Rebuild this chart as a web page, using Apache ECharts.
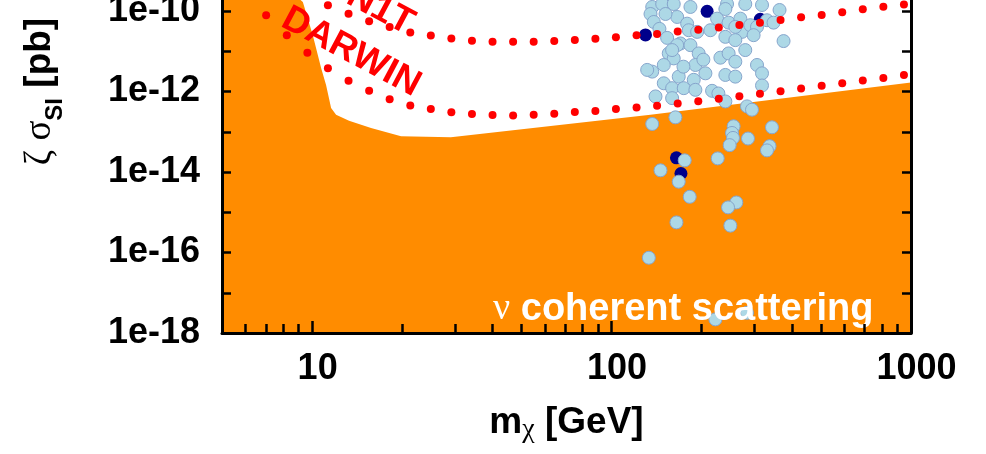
<!DOCTYPE html>
<html>
<head>
<meta charset="utf-8">
<script src="https://cdn.jsdelivr.net/npm/echarts@6/dist/echarts.min.js"></script>
<style>
  html, body { margin: 0; padding: 0; background: #fff; overflow: hidden; width: 986px; height: 454px; }
  /* the plot runs up to 1e-6 pb; only its lower part sits inside the page */
  #chart { position: absolute; left: 0; top: -150px; width: 986px; height: 604px; }
</style>
</head>
<body>
<div id="chart"></div>
<script>
// Mass grid (GeV) on which the projected sensitivity curves are sampled
const massGrid = [7.02, 8.23, 9.64, 11.29, 13.23, 15.50, 18.15, 21.27, 24.91, 29.17, 34.18,
  40.04, 46.90, 54.94, 64.36, 75.39, 88.31, 103.4, 121.2, 141.9, 166.3, 194.8, 228.1,
  267.2, 313.0, 366.7, 429.5, 503.1, 589.3, 690.2, 808.5, 947.1];

// XENON1T projected reach (pb)
const xenon1tLimit = [null, null, null, 1.38e-10, 8.57e-11, 5.57e-11, 4.03e-11, 2.91e-11,
  2.45e-11, 2.07e-11, 1.82e-11, 1.72e-11, 1.72e-11, 1.72e-11, 1.79e-11, 1.89e-11, 2.04e-11,
  2.22e-11, 2.48e-11, 2.70e-11, 3.08e-11, 3.40e-11, 3.87e-11, 4.51e-11, 5.14e-11, 6.00e-11,
  6.98e-11, 7.96e-11, 9.29e-11, 1.10e-10, 1.28e-10, 1.46e-10];

// DARWIN projected reach (pb)
const darwinLimit = [7.84e-11, 2.51e-11, 9.18e-12, 3.76e-12, 1.84e-12, 1.04e-12, 6.46e-13,
  4.51e-13, 3.66e-13, 3.03e-13, 2.75e-13, 2.60e-13, 2.55e-13, 2.66e-13, 2.81e-13, 3.08e-13,
  3.27e-13, 3.66e-13, 4.03e-13, 4.44e-13, 5.06e-13, 5.75e-13, 6.61e-13, 7.66e-13, 8.77e-13,
  1.02e-12, 1.19e-12, 1.38e-12, 1.60e-12, 1.87e-12, 2.18e-12, 2.58e-12];

// Coherent neutrino scattering floor
const floorMass  = [5, 9.31, 10.05, 10.72, 11.13, 11.57, 12.02, 13.28, 15.73, 19.81, 29.06, 134.9, 1000];
const floorSigma = [1e-8, 1.67e-10, 2.51e-11, 3.76e-12, 1.46e-12, 3.87e-13, 2.66e-13, 1.87e-13,
  1.24e-13, 7.74e-14, 7.31e-14, 2.66e-13, 1.68e-12];

// Model points
const pointMass = [136.7, 147.6, 161.3, 243.0, 239.9, 279.6, 318.0, 363.9, 134.9, 138.4, 144.5,
  153.3, 165.6, 178.8, 181.0, 193.1, 213.8, 225.1, 246.0, 269.2, 272.7, 290.6, 306.0, 298.1,
  330.4, 347.5, 375.3, 239.9, 259.0, 169.8, 183.4, 195.4, 279.6, 230.9, 246.0, 259.0, 155.2,
  161.3, 149.4, 190.5, 306.0, 318.0, 136.7, 167.6, 205.8, 188.1, 239.9, 259.0, 149.4, 159.3,
  174.2, 190.5, 216.6, 227.4, 318.0, 159.3, 239.9, 283.3, 294.4, 163.4, 136.7, 255.6, 343.3,
  131.5, 165.6, 159.3, 202.6, 173.8, 140.2, 259.0, 151.4, 183.4,
  252.5, 254.4, 248.0, 285.5, 337.0, 330.4, 175.5, 226.2, 145.7, 167.6, 182.4, 261.0, 244.9,
  164.7, 249.3, 133.2, 222.2, 283.3];
const pointSigma = [1.26e-10, 1.49e-10, 1.49e-10, 1.49e-10, 1.12e-10, 1.49e-10, 1.41e-10, 1.06e-10,
  8.43e-11, 5.34e-11, 3.60e-11, 2.15e-11, 7.11e-11, 4.85e-11, 3.33e-11, 3.03e-11, 3.33e-11,
  6.46e-11, 5.14e-11, 6.46e-11, 3.03e-11, 4.44e-11, 4.03e-11, 2.51e-11, 5.89e-11, 5.14e-11,
  1.79e-11, 2.28e-11, 1.89e-11, 1.56e-11, 1.42e-11, 8.83e-12, 1.07e-11, 6.92e-12, 8.83e-12,
  5.51e-12, 8.83e-12, 6.64e-12, 4.56e-12, 4.56e-12, 4.56e-12, 2.83e-12, 3.12e-12, 2.34e-12,
  2.83e-12, 1.95e-12, 2.58e-12, 2.34e-12, 1.60e-12, 1.21e-12, 1.21e-12, 1.10e-12, 1.04e-12,
  8.93e-13, 1.41e-12, 6.84e-13, 5.66e-13, 4.27e-13, 3.53e-13, 2.28e-13, 1.56e-13, 1.37e-13,
  1.29e-13, 3.44e-12, 1.42e-11, 1.07e-11, 6.17e-12, 4.14e-12, 7.54e-13, 4.03e-11, 8.43e-11,
  1.26e-10,
  9.33e-14, 7.03e-14, 4.65e-14, 6.79e-14, 4.39e-14, 3.44e-14, 1.95e-14, 2.18e-14, 1.10e-14,
  5.75e-15, 2.42e-15, 1.75e-15, 1.32e-15, 5.60e-16, 4.65e-16, 7.40e-17, 2.18e-18, 3.17e-18];

// Highlighted points
const darkMass  = [208.5, 313.7, 129.8, 164.7, 170.5];
const darkSigma = [9.84e-11, 6.24e-11, 2.55e-11, 2.25e-14, 9.18e-15];

// Axis ticks and labels
const xTickValues = [10, 100, 1000];
const xTickLabels = ['10', '100', '1000'];
const xMinorTicks = [6, 7, 8, 9, 20, 30, 40, 50, 60, 70, 80, 90, 200, 300, 400, 500, 600, 700, 800, 900];
const yTickValues = [1e-18, 1e-16, 1e-14, 1e-12, 1e-10];
const yTickLabels = ['1e-18', '1e-16', '1e-14', '1e-12', '1e-10'];

const SANS = '"Liberation Sans", Arial, Helvetica, sans-serif';
const SERIF = '"Liberation Serif", "DejaVu Serif", serif';

function pairs(xs, ys) {
  const out = [];
  xs.forEach((x, i) => { if (ys[i] != null) out.push([x, ys[i]]); });
  return out;
}
function labelFor(v, values, labels) {
  const lv = Math.log10(v);
  for (let i = 0; i < values.length; i++) {
    if (Math.abs(lv - Math.log10(values[i])) < 1e-6) return labels[i];
  }
  return '';
}

const axisLine = { show: true, onZero: false, lineStyle: { color: '#000', width: 3 } };
const tickStyle = { color: '#000', width: 2.5 };

const chart = echarts.init(document.getElementById('chart'), null, { renderer: 'canvas' });
chart.setOption({
  animation: false,
  grid: { left: 222, right: 75, top: 0, bottom: 121, containLabel: false },
  xAxis: [
    {
      type: 'log', logBase: 10, min: 5, max: 1000, position: 'bottom', z: 10,
      axisLine: axisLine,
      axisTick: { show: true, inside: true, length: 12, lineStyle: tickStyle },
      axisLabel: {
        show: true, margin: 18, color: '#000', fontFamily: SANS, fontWeight: 'bold', fontSize: 36,
        padding: [0, 0, 0, 11],
        formatter: v => labelFor(v, xTickValues, xTickLabels)
      },
      splitLine: { show: false },
      name: '{m|m}{chi|χ}{m| [GeV]}',
      nameLocation: 'middle', nameGap: 69,
      nameTextStyle: {
        color: '#000',
        rich: {
          m: { fontFamily: SANS, fontWeight: 'bold', fontSize: 37, color: '#000' },
          chi: { fontFamily: SERIF, fontWeight: 'normal', fontSize: 28, color: '#000', padding: [14, 0, 0, 0] }
        }
      }
    },
    {
      type: 'log', logBase: 10, min: 5, max: 1000, position: 'bottom', z: 10,
      axisLine: { show: false },
      axisLabel: { show: false },
      splitLine: { show: false },
      axisTick: { show: true, inside: true, length: 9, lineStyle: tickStyle, customValues: xMinorTicks }
    }
  ],
  yAxis: [
    {
      type: 'log', logBase: 10, min: 1e-18, max: 1e-6, interval: 1, position: 'left', z: 10,
      axisLine: axisLine,
      axisTick: { show: true, inside: true, length: 9, lineStyle: tickStyle },
      axisLabel: {
        show: true, margin: 22, color: '#000', fontFamily: SANS, fontWeight: 'bold', fontSize: 36,
        formatter: v => labelFor(v, yTickValues, yTickLabels)
      },
      splitLine: { show: false },
      name: '{g|ζ σ}{s|SI}{b| [pb]}',
      nameLocation: 'middle', nameRotate: 90, nameGap: 155,
      nameTextStyle: {
        color: '#000',
        rich: {
          g: { fontFamily: SERIF, fontWeight: 'normal', fontSize: 37, color: '#000' },
          s: { fontFamily: SANS, fontWeight: 'bold', fontSize: 24, color: '#000', padding: [30, 0, 0, 0] },
          b: { fontFamily: SANS, fontWeight: 'bold', fontSize: 37, color: '#000' }
        }
      }
    },
    {
      type: 'log', logBase: 10, min: 1e-18, max: 1e-6, interval: 1, position: 'right', z: 10,
      axisLine: axisLine,
      axisTick: { show: true, inside: true, length: 9, lineStyle: tickStyle },
      axisLabel: { show: false },
      splitLine: { show: false }
    }
  ],
  series: [
    {
      name: 'nu floor', type: 'line', z: 1, silent: true,
      data: pairs(floorMass, floorSigma),
      symbol: 'none', lineStyle: { width: 0 },
      areaStyle: { color: '#ff8c00', opacity: 1, origin: 'start' }
    },
    {
      name: 'highlighted', type: 'scatter', z: 2, silent: true,
      data: pairs(darkMass, darkSigma),
      symbolSize: 13, itemStyle: { color: '#00008b', opacity: 1 }
    },
    {
      name: 'models', type: 'scatter', z: 3, silent: true,
      data: pairs(pointMass, pointSigma),
      symbolSize: 13, itemStyle: { color: '#add8e6', borderColor: '#86a5cc', borderWidth: 1, opacity: 1 }
    },
    {
      name: 'XENON1T', type: 'scatter', z: 4, silent: true,
      data: pairs(massGrid, xenon1tLimit),
      symbolSize: 8, itemStyle: { color: '#ff0000', opacity: 1 }
    },
    {
      name: 'DARWIN', type: 'scatter', z: 4, silent: true,
      data: pairs(massGrid, darwinLimit),
      symbolSize: 8, itemStyle: { color: '#ff0000', opacity: 1 }
    },
    {
      name: 'annotations', type: 'scatter', z: 6, silent: true,
      symbolSize: 1, itemStyle: { color: 'rgba(0,0,0,0)', borderWidth: 0 },
      label: { show: true, opacity: 1, fontFamily: SANS, fontWeight: 'bold', fontSize: 37 },
      data: [
        { value: [11.84, 4.43e-10], label: { formatter: 'XENON1T', color: '#ff0000', position: 'inside', rotate: -28 } },
        { value: [13.49, 9.57e-12], label: { formatter: 'DARWIN', color: '#ff0000', position: 'inside', rotate: -28 } },
        {
          value: [40.03, 3.86e-18],
          label: {
            formatter: '{nu|ν} coherent scattering', color: '#fff', position: 'right', distance: 0,
            fontSize: 38,
            rich: { nu: { fontFamily: SERIF, fontWeight: 'normal', fontSize: 38, color: '#fff' } }
          }
        }
      ]
    }
  ]
});
</script>
</body>
</html>
